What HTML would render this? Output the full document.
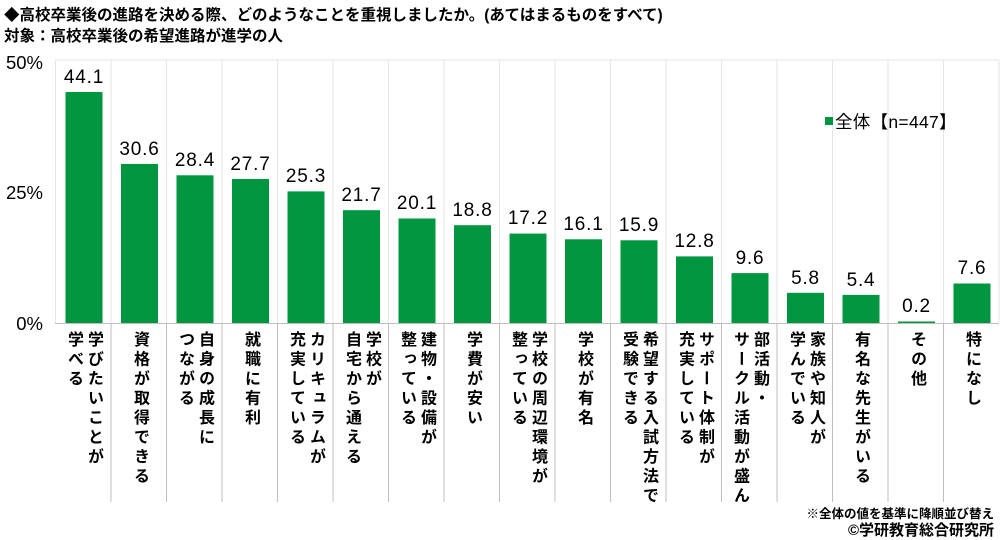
<!DOCTYPE html>
<html><head><meta charset="utf-8"><style>
body{margin:0;width:1000px;height:539px;background:#fff;position:relative;overflow:hidden;font-family:"Liberation Sans","Noto Sans CJK JP",sans-serif;color:#000}
.t{position:absolute;left:4px;font-size:15.5px;font-weight:bold;white-space:nowrap}
.lab{position:absolute;top:331px;writing-mode:vertical-rl;font-size:16px;font-weight:bold;line-height:20px;letter-spacing:3.5px;transform:translateX(-50%);white-space:nowrap}
svg{position:absolute;left:0;top:0}
</style></head><body>
<div class="t" style="top:3px">◆高校卒業後の進路を決める際、どのようなことを重視しましたか。(あてはまるものをすべて)</div>
<div class="t" style="top:24px">対象：高校卒業後の希望進路が進学の人</div>
<svg width="1000" height="539" font-family="Liberation Sans, Noto Sans CJK JP, sans-serif">
<g stroke="#e6e6e6" stroke-width="1">
<line x1="55" y1="60" x2="999" y2="60"/>
<line x1="55.5" y1="60" x2="55.5" y2="323"/>
<line x1="999" y1="60" x2="999" y2="323"/>
<line x1="111" y1="60" x2="111" y2="323"/><line x1="166.5" y1="60" x2="166.5" y2="323"/><line x1="222" y1="60" x2="222" y2="323"/><line x1="277.5" y1="60" x2="277.5" y2="323"/><line x1="333" y1="60" x2="333" y2="323"/><line x1="388.5" y1="60" x2="388.5" y2="323"/><line x1="444" y1="60" x2="444" y2="323"/><line x1="499.5" y1="60" x2="499.5" y2="323"/><line x1="555" y1="60" x2="555" y2="323"/><line x1="610.5" y1="60" x2="610.5" y2="323"/><line x1="666" y1="60" x2="666" y2="323"/><line x1="721.5" y1="60" x2="721.5" y2="323"/><line x1="777" y1="60" x2="777" y2="323"/><line x1="832.5" y1="60" x2="832.5" y2="323"/><line x1="888" y1="60" x2="888" y2="323"/><line x1="943.5" y1="60" x2="943.5" y2="323"/>
</g>
<g stroke="#bfbfbf" stroke-width="1">
<line x1="55" y1="323.5" x2="999" y2="323.5"/>
<line x1="111" y1="324" x2="111" y2="502"/><line x1="166.5" y1="324" x2="166.5" y2="502"/><line x1="222" y1="324" x2="222" y2="502"/><line x1="277.5" y1="324" x2="277.5" y2="502"/><line x1="333" y1="324" x2="333" y2="502"/><line x1="388.5" y1="324" x2="388.5" y2="502"/><line x1="444" y1="324" x2="444" y2="502"/><line x1="499.5" y1="324" x2="499.5" y2="502"/><line x1="555" y1="324" x2="555" y2="502"/><line x1="610.5" y1="324" x2="610.5" y2="502"/><line x1="666" y1="324" x2="666" y2="502"/><line x1="721.5" y1="324" x2="721.5" y2="502"/><line x1="777" y1="324" x2="777" y2="502"/><line x1="832.5" y1="324" x2="832.5" y2="502"/><line x1="888" y1="324" x2="888" y2="502"/><line x1="943.5" y1="324" x2="943.5" y2="502"/>
</g>
<g font-size="18.5" text-anchor="end">
<text x="43" y="69">50%</text><text x="43" y="199">25%</text><text x="43" y="330">0%</text>
</g>
<g fill="#009640">
<rect x="65.5" y="92" width="37" height="231"/>
<rect x="121" y="163.9" width="37" height="159.1"/>
<rect x="176.5" y="175.3" width="37" height="147.7"/>
<rect x="232" y="179" width="37" height="144"/>
<rect x="287.5" y="191.4" width="37" height="131.6"/>
<rect x="343" y="210.2" width="37" height="112.8"/>
<rect x="398.5" y="218.5" width="37" height="104.5"/>
<rect x="454" y="225.2" width="37" height="97.8"/>
<rect x="509.5" y="233.6" width="37" height="89.4"/>
<rect x="565" y="239.3" width="37" height="83.7"/>
<rect x="620.5" y="240.3" width="37" height="82.7"/>
<rect x="676" y="256.4" width="37" height="66.6"/>
<rect x="731.5" y="273.1" width="37" height="49.9"/>
<rect x="787" y="292.8" width="37" height="30.2"/>
<rect x="842.5" y="294.9" width="37" height="28.1"/>
<rect x="898" y="321.5" width="37" height="1.5"/>
<rect x="953.5" y="283.5" width="37" height="39.5"/>
<rect x="825" y="117" width="8" height="8"/>
</g>
<g font-size="19" text-anchor="middle" letter-spacing="0.8">
<text x="84" y="83">44.1</text>
<text x="139.5" y="155">30.6</text>
<text x="195" y="166">28.4</text>
<text x="250.5" y="170">27.7</text>
<text x="306" y="182">25.3</text>
<text x="361.5" y="201">21.7</text>
<text x="417" y="209">20.1</text>
<text x="472.5" y="216">18.8</text>
<text x="528" y="224">17.2</text>
<text x="583.5" y="230">16.1</text>
<text x="639" y="231">15.9</text>
<text x="694.5" y="247">12.8</text>
<text x="750" y="264">9.6</text>
<text x="805.5" y="284">5.8</text>
<text x="861" y="286">5.4</text>
<text x="916.5" y="312">0.2</text>
<text x="972" y="274">7.6</text>
</g>
<text x="835" y="128" font-size="17.5" letter-spacing="0.3">全体【n=447】</text>
</svg>
<div class="lab" style="left:83px">学びたいことが<br>学べる</div>
<div class="lab" style="left:139px">資格が取得できる</div>
<div class="lab" style="left:194px">自身の成長に<br>つながる</div>
<div class="lab" style="left:250px">就職に有利</div>
<div class="lab" style="left:305px">カリキュラムが<br>充実している</div>
<div class="lab" style="left:361px">学校が<br>自宅から通える</div>
<div class="lab" style="left:416px">建物・設備が<br>整っている</div>
<div class="lab" style="left:472px">学費が安い</div>
<div class="lab" style="left:527px">学校の周辺環境が<br>整っている</div>
<div class="lab" style="left:583px">学校が有名</div>
<div class="lab" style="left:638px">希望する入試方法で<br>受験できる</div>
<div class="lab" style="left:694px">サポート体制が<br>充実している</div>
<div class="lab" style="left:749px">部活動・<br>サークル活動が盛ん</div>
<div class="lab" style="left:805px">家族や知人が<br>学んでいる</div>
<div class="lab" style="left:860px">有名な先生がいる</div>
<div class="lab" style="left:916px">その他</div>
<div class="lab" style="left:971px">特になし</div>
<div style="position:absolute;right:6px;top:503px;font-size:12.5px;font-weight:bold">※全体の値を基準に降順並び替え</div>
<div style="position:absolute;right:6px;top:519px;font-size:15px;font-weight:bold">©学研教育総合研究所</div>
</body></html>
